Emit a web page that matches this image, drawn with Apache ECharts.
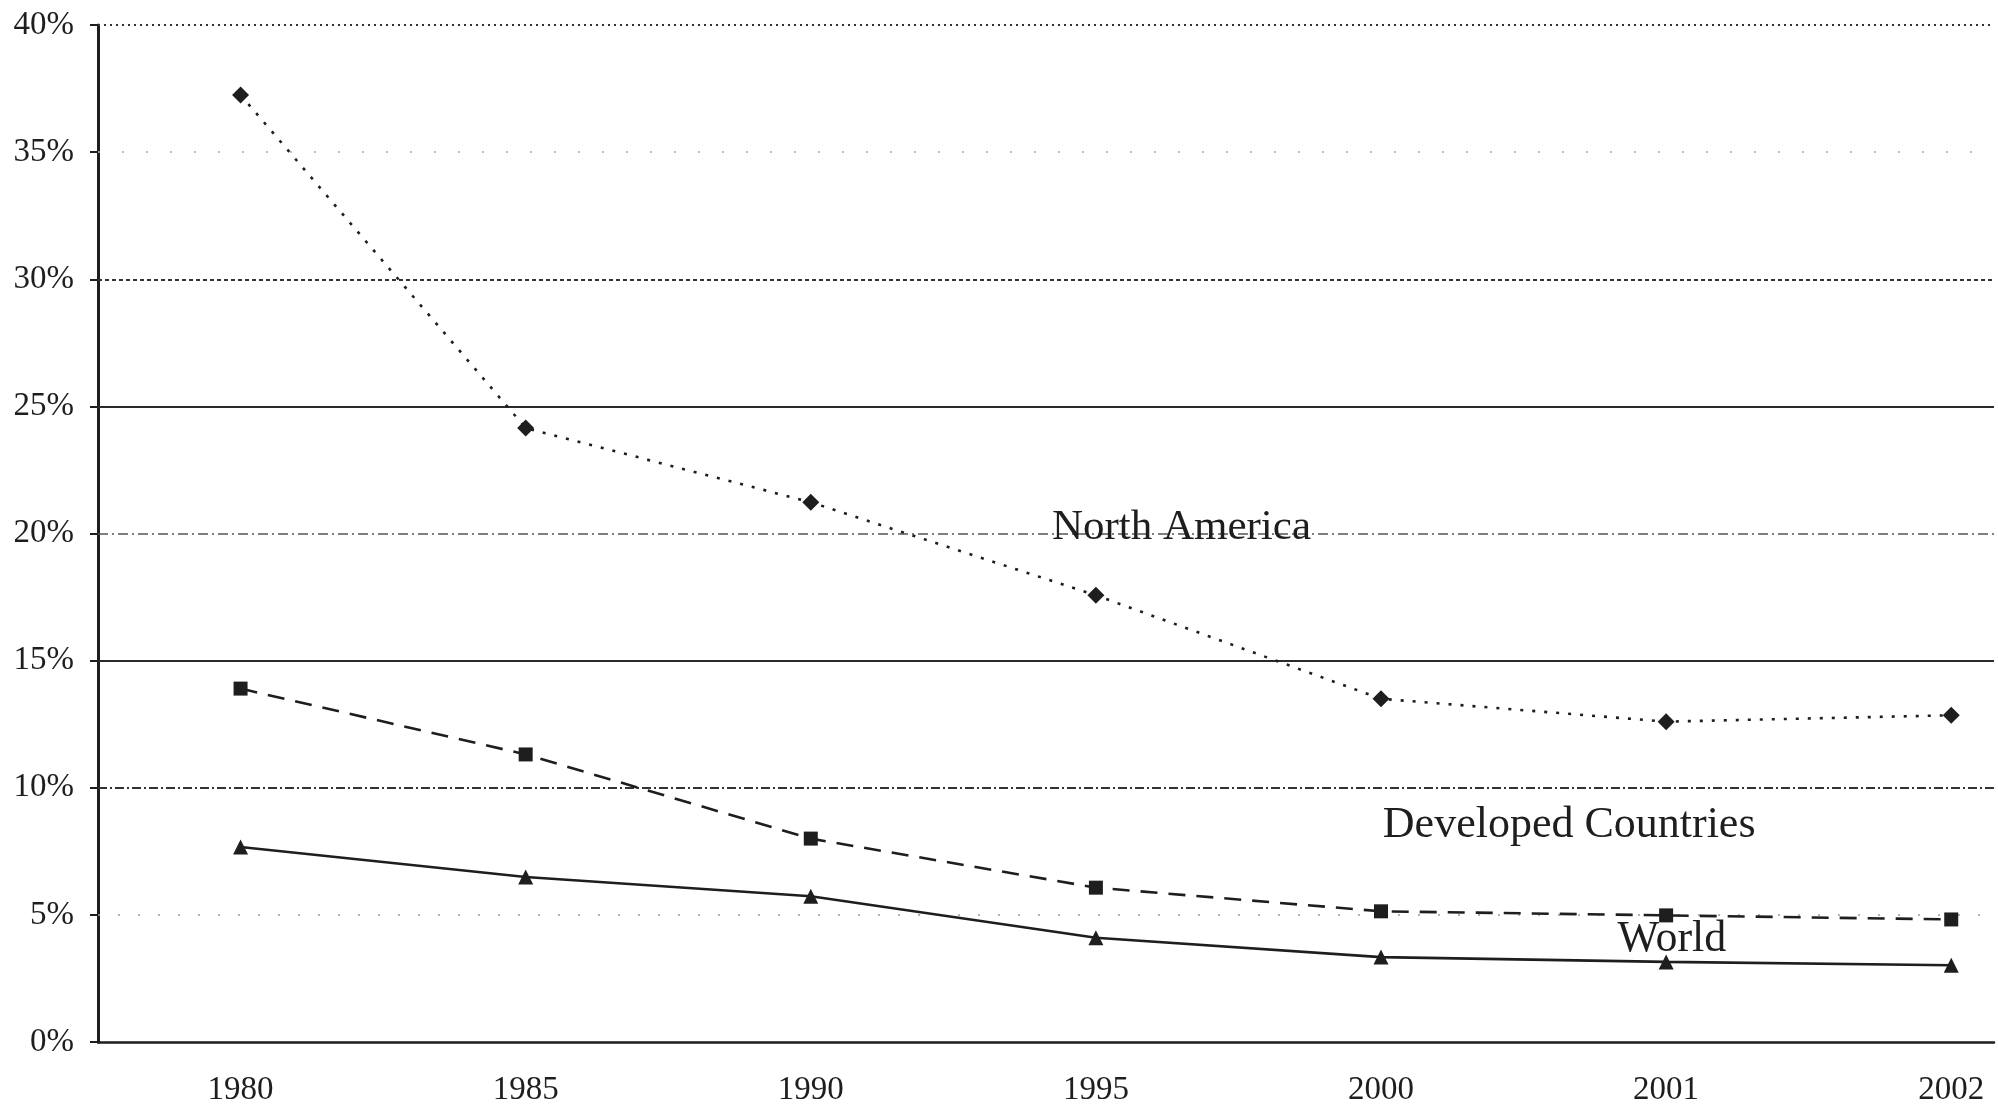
<!DOCTYPE html>
<html>
<head>
<meta charset="utf-8">
<script src="https://cdn.jsdelivr.net/npm/echarts@6/dist/echarts.min.js"></script>
<style>
html,body{margin:0;padding:0;background:#fff;}
#chart{width:1998px;height:1110px;}
</style>
</head>
<body>
<div id="chart"></div>
<script>
// ---- data ----
const years = ['1980', '1985', '1990', '1995', '2000', '2001', '2002'];
const northAmerica = [37.25, 24.15, 21.23, 17.57, 13.5, 12.6, 12.85];
const developed = [13.9, 11.31, 8.0, 6.07, 5.14, 4.98, 4.82];
const world = [7.67, 6.49, 5.73, 4.1, 3.34, 3.15, 3.02];
const yTicks = [0, 5, 10, 15, 20, 25, 30, 35, 40];
const seriesNames = ['North America', 'Developed Countries', 'World'];

const ink = '#1e1e1e';
const serif = '"Liberation Serif", "DejaVu Serif", serif';

function pairs(arr) { return arr.map((v, i) => [i, v]); }

// individual gridline looks (as in the scanned original)
const gridStyle = {
  40: {type: [2, 4], width: 2, color: '#333'},
  35: {type: [2, 22], width: 1.5, color: '#aaa'},
  30: {type: [4, 3], width: 2, color: '#333'},
  25: {type: 'solid', width: 2, color: '#2a2a2a'},
  20: {type: [10, 4, 2, 4], width: 1.6, color: '#555'},
  15: {type: 'solid', width: 2, color: '#2a2a2a'},
  10: {type: [9, 3, 2, 3], width: 2, color: '#333'},
  5:  {type: [2, 18], width: 1.5, color: '#999'}
};
const gridLines = yTicks.filter(v => gridStyle[v]).map(v => ({yAxis: v, lineStyle: gridStyle[v]}));

const chart = echarts.init(document.getElementById('chart'));
chart.setOption({
  animation: false,
  backgroundColor: '#fff',
  grid: {left: 98, right: 4, top: 25, bottom: 68, containLabel: false},
  xAxis: {
    type: 'value',
    min: -0.5,
    max: 6.15,
    axisLine: {show: true, onZero: false, lineStyle: {color: ink, width: 2.5}},
    axisTick: {show: false},
    splitLine: {show: false},
    axisLabel: {
      customValues: years.map((y, i) => i),
      formatter: v => years[Math.round(v)] ?? '',
      color: ink, fontFamily: serif, fontSize: 33, margin: 32
    }
  },
  yAxis: {
    type: 'value',
    min: 0, max: 40, interval: 5,
    axisLine: {show: true, onZero: false, lineStyle: {color: ink, width: 3}},
    axisTick: {show: true, inside: false, length: 8, lineStyle: {color: ink, width: 2}},
    splitLine: {show: false},
    axisLabel: {formatter: '{value}%', color: ink, fontFamily: serif, fontSize: 33, margin: 24}
  },
  series: [
    {
      name: seriesNames[0], type: 'line', data: pairs(northAmerica),
      symbol: 'diamond', symbolSize: 17,
      itemStyle: {color: ink},
      lineStyle: {color: ink, width: 2.6, type: [3, 9]},
      z: 3,
      markLine: {
        silent: true, symbol: ['none', 'none'], label: {show: false},
        data: gridLines, z: 1, animation: false
      },
      markPoint: {
        silent: true, symbol: 'circle', symbolSize: 0,
        data: [{coord: [3.3, 20.24], value: seriesNames[0]}],
        label: {show: true, position: 'inside', formatter: seriesNames[0], color: ink, fontFamily: serif, fontSize: 43}
      }
    },
    {
      name: seriesNames[1], type: 'line', data: pairs(developed),
      symbol: 'rect', symbolSize: 14,
      itemStyle: {color: ink},
      lineStyle: {color: ink, width: 2.6, type: [17, 11]},
      z: 3,
      markPoint: {
        silent: true, symbol: 'circle', symbolSize: 0,
        data: [{coord: [4.66, 8.52], value: seriesNames[1]}],
        label: {show: true, position: 'inside', formatter: seriesNames[1], color: ink, fontFamily: serif, fontSize: 44}
      }
    },
    {
      name: seriesNames[2], type: 'line', data: pairs(world),
      symbol: 'triangle', symbolSize: 15,
      itemStyle: {color: ink},
      lineStyle: {color: ink, width: 2.6, type: 'solid'},
      z: 3,
      markPoint: {
        silent: true, symbol: 'circle', symbolSize: 0,
        data: [{coord: [5.02, 4.02], value: seriesNames[2]}],
        label: {show: true, position: 'inside', formatter: seriesNames[2], color: ink, fontFamily: serif, fontSize: 44}
      }
    }
  ]
});
</script>
</body>
</html>
